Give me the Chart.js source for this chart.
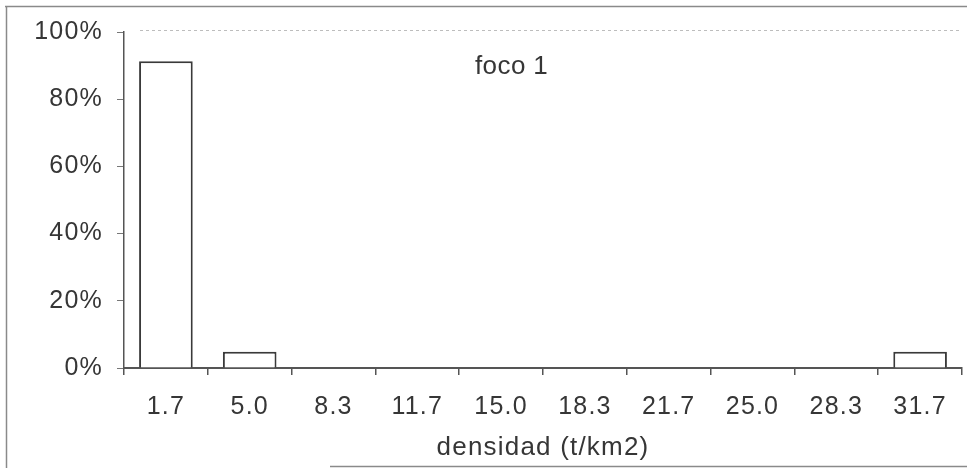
<!DOCTYPE html>
<html>
<head>
<meta charset="utf-8">
<script src="https://cdn.jsdelivr.net/npm/chart.js@4.4.1/dist/chart.umd.min.js"></script>
<style>
  html, body { margin: 0; padding: 0; background: #ffffff; }
  #wrap { width: 967px; height: 468px; position: relative; }
</style>
</head>
<body>
<div id="wrap"><canvas id="c" width="967" height="468"></canvas></div>
<script>
// Density classes (t/km2) and share of cells in each class, in percent
const categories = ['1.7', '5.0', '8.3', '11.7', '15.0', '18.3', '21.7', '25.0', '28.3', '31.7'];
const shares = [91.3, 4.8, 0, 0, 0, 0, 0, 0, 0, 4.8];
const yTicks = [0, 20, 40, 60, 80, 100];
const chartLabel = 'foco 1';
const xTitle = 'densidad (t/km2)';

const ink = '#363636';
const family = '"Liberation Sans", Arial, sans-serif';
const tickFont = { family: family, size: 25 };
const titleFont = { family: family, size: 26 };

// Slightly open letter spacing for all chart text
const spacing = {
  id: 'spacing',
  beforeLayout(chart) { chart.ctx.letterSpacing = '1.2px'; },
  beforeDraw(chart) { chart.ctx.letterSpacing = '1.2px'; }
};

// Outer frame, dotted plot-area top edge and the inline label
const decorations = {
  id: 'decorations',
  beforeDraw(chart) {
    const ctx = chart.ctx;
    const a = chart.chartArea;
    ctx.save();
    ctx.strokeStyle = '#8a8a8a';
    ctx.lineWidth = 1.5;
    ctx.beginPath();
    ctx.moveTo(5, 6.5); ctx.lineTo(967, 6.5);
    ctx.moveTo(6.5, 6); ctx.lineTo(6.5, 468);
    ctx.moveTo(330, 466.5); ctx.lineTo(967, 466.5);
    ctx.stroke();
    ctx.strokeStyle = '#bdbdbd';
    ctx.lineWidth = 1;
    ctx.setLineDash([3, 3]);
    ctx.beginPath();
    ctx.moveTo(a.left + 16, a.top - 1.5);
    ctx.lineTo(a.right, a.top - 1.5);
    ctx.stroke();
    ctx.restore();
  },
  afterDraw(chart) {
    const ctx = chart.ctx;
    const a = chart.chartArea;
    ctx.save();
    ctx.letterSpacing = '0.4px';
    ctx.fillStyle = ink;
    ctx.font = '26px ' + family;
    ctx.textAlign = 'left';
    ctx.textBaseline = 'middle';
    ctx.fillText(chartLabel, a.left + 351, a.top + 35);
    ctx.restore();
  }
};

new Chart(document.getElementById('c'), {
  type: 'bar',
  data: {
    labels: categories,
    datasets: [{
      data: shares,
      backgroundColor: '#ffffff',
      borderColor: '#3a3a3a',
      borderWidth: 2,
      borderSkipped: 'bottom',
      barPercentage: 0.64,
      categoryPercentage: 1.0
    }]
  },
  options: {
    responsive: false,
    animation: false,
    layout: { padding: { left: 0, top: 32, right: 5, bottom: 0 } },
    plugins: { legend: { display: false }, tooltip: { enabled: false } },
    scales: {
      x: {
        offset: true,
        grid: { display: true, offset: true, drawOnChartArea: false, drawTicks: true, tickLength: 7, color: '#555555', lineWidth: 1.5 },
        border: { display: true, color: '#555555', width: 2 },
        ticks: { color: ink, font: tickFont, padding: 17, maxRotation: 0, autoSkip: false },
        title: { display: true, text: xTitle, color: ink, font: titleFont, padding: { top: 0, bottom: 5 } },
        afterFit(scale) { scale.height = 100; }
      },
      y: {
        min: 0,
        max: 100,
        afterBuildTicks(scale) { scale.ticks = yTicks.map(v => ({ value: v })); },
        grid: { display: true, drawOnChartArea: false, drawTicks: true, tickLength: 7, color: '#777777', lineWidth: 1 },
        border: { display: true, color: '#555555', width: 1.5 },
        ticks: { color: ink, font: tickFont, padding: 14, callback: v => v + '%' },
        afterFit(scale) { scale.width = 124; }
      }
    }
  },
  plugins: [spacing, decorations]
});
</script>
</body>
</html>
